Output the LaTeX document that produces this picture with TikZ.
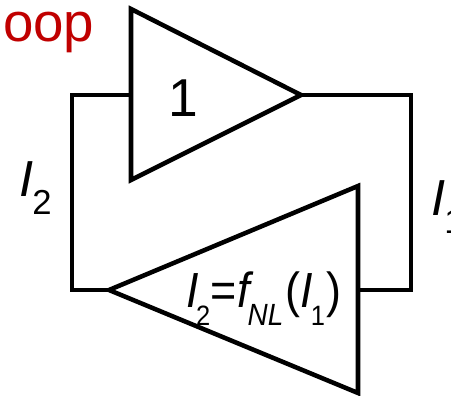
\documentclass[tikz,border=0pt]{standalone}
\usepackage{fontspec}
\setmainfont{Liberation Sans}
\newcommand{\subs}[2]{\raisebox{-14pt}{\fontsize{#1}{#1}\selectfont #2}}
\begin{document}
\begin{tikzpicture}[x=0.75pt,y=-0.75pt,
  wire/.style={draw=black,line width=3.4pt,line join=miter},
  lab/.style={inner sep=0pt,outer sep=0pt,anchor=base west,text=black},
  amp/.style={wire,line join=miter}]
\useasboundingbox (0,0) rectangle (451,396);
\clip (0,0) rectangle (451,396);
\coordinate (a1) at (131,95);
\coordinate (a2) at (301,95);
\coordinate (b1) at (109,290);
\coordinate (b2) at (358,290);
\coordinate (c1) at (72,95);
\coordinate (c2) at (72,290);
\coordinate (c3) at (411,95);
\coordinate (c4) at (411,290);
\draw[amp] (131,9) -- (a2) -- (131,180) -- cycle;
\draw[amp] (358,186) -- (358,393) -- (b1) -- cycle;
\draw[wire] (a1) -- (c1) -- (c2) -- (b1);
\draw[wire] (a2) -- (c3) -- (c4) -- (b2);
\node[lab,text={rgb,255:red,192;green,0;blue,0}] (oop) at (3,41) {\fontsize{41pt}{41pt}\selectfont oop};
\node[lab] (one) at (168,116) {\fontsize{40pt}{40pt}\selectfont 1};
\node[lab] (i2) at (19,196) {\fontsize{38pt}{38pt}\selectfont\itshape I\kern-0.5pt\subs{26pt}{\upshape 2}};
\node[lab] (i1) at (431,215) {\fontsize{38pt}{38pt}\selectfont\itshape I\kern-0.5pt\subs{26pt}{\upshape 1}};
\node[lab] (eq) at (186,307) {\scalebox{0.91}[1]{\fontsize{37pt}{37pt}\selectfont\itshape I\kern-2pt\subs{21pt}{\upshape 2}\kern0pt{\upshape =}\kern1pt f\kern-2pt\subs{23pt}{NL}\kern2pt{\upshape (}\kern0pt I\kern-2pt\subs{21pt}{\upshape 1}\kern1pt{\upshape )}}};
\end{tikzpicture}
\end{document}
